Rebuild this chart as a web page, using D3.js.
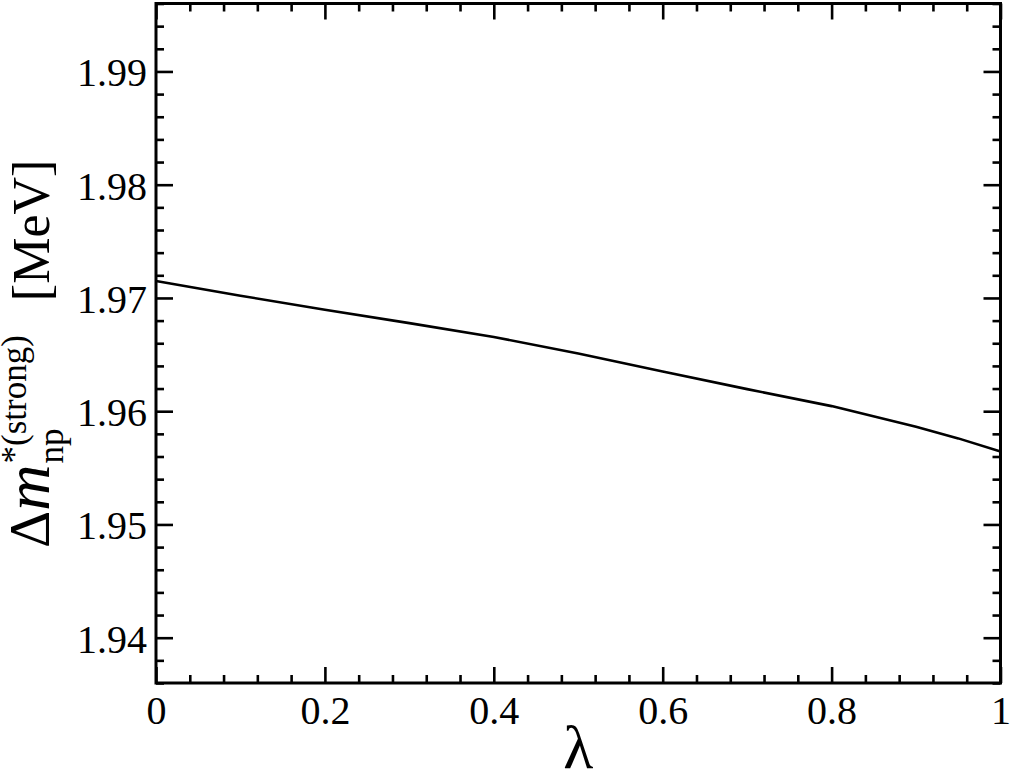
<!DOCTYPE html>
<html>
<head>
<meta charset="utf-8">
<script src="https://cdn.jsdelivr.net/npm/d3@7"></script>
<style>
  body { margin: 0; background: #fff; }
  svg text { font-family: "Liberation Serif", "Times New Roman", Times, serif; fill: #000; }
</style>
</head>
<body>
<svg id="chart" width="1011" height="777"></svg>
<script>
// values
var lambdaVals = [0, 0.1, 0.2, 0.3, 0.4, 0.5, 0.6, 0.7, 0.8, 0.9, 0.95, 1.0];
var dmVals = [1.97149, 1.97020, 1.96895, 1.96778, 1.96655, 1.96510, 1.96350, 1.96195, 1.96045, 1.95862, 1.95760, 1.95645];
var xTickVals = [0, 0.2, 0.4, 0.6, 0.8, 1];
var xTickLabels = ["0", "0.2", "0.4", "0.6", "0.8", "1"];
var yTickVals = [1.94, 1.95, 1.96, 1.97, 1.98, 1.99];
var yTickLabels = ["1.94", "1.95", "1.96", "1.97", "1.98", "1.99"];

var m = {left: 156, right: 1000.5, top: 3.5, bottom: 683};
var svg = d3.select("#chart");

var x = d3.scaleLinear().domain([0, 1]).range([m.left, m.right]);
var y = d3.scaleLinear().domain([1.936, 1.996]).range([m.bottom, m.top]);

var xMinor = d3.range(0, 1.0001, 0.04).filter(function(v){ return Math.abs(v*5 - Math.round(v*5)) > 1e-6; });
var yMinor = d3.range(1.936, 1.99601, 0.002).filter(function(v){ return Math.abs(v*100 - Math.round(v*100)) > 1e-6; });

function drawAxis(axis, tx, ty) {
    var g = svg.append("g").attr("transform", "translate(" + tx + "," + ty + ")").call(axis);
    g.attr("font-family", null);
    g.select(".domain").remove();
    g.selectAll("line").attr("stroke", "#000").attr("stroke-width", 2.6);
    return g;
}

// major ticks (inward) on all four sides
var bx = drawAxis(d3.axisBottom(x).tickValues(xTickVals).tickSize(-16).tickPadding(13)
                  .tickFormat(function(d, i){ return xTickLabels[i]; }), 0, m.bottom);
bx.selectAll("text").attr("font-size", 40).attr("dy", "0.71em");
drawAxis(d3.axisTop(x).tickValues(xTickVals).tickSize(-16).tickFormat(""), 0, m.top);
drawAxis(d3.axisBottom(x).tickValues(xMinor).tickSize(-8).tickFormat(""), 0, m.bottom);
drawAxis(d3.axisTop(x).tickValues(xMinor).tickSize(-8).tickFormat(""), 0, m.top);

var ly = drawAxis(d3.axisLeft(y).tickValues(yTickVals).tickSize(-17).tickPadding(9)
                  .tickFormat(function(d, i){ return yTickLabels[i]; }), m.left, 0);
ly.selectAll("text").attr("font-size", 40).attr("dy", "0.36em");
drawAxis(d3.axisRight(y).tickValues(yTickVals).tickSize(-17).tickFormat(""), m.right, 0);
drawAxis(d3.axisLeft(y).tickValues(yMinor).tickSize(-8).tickFormat(""), m.left, 0);
drawAxis(d3.axisRight(y).tickValues(yMinor).tickSize(-8).tickFormat(""), m.right, 0);

// frame
svg.append("rect")
    .attr("x", m.left).attr("y", m.top)
    .attr("width", m.right - m.left).attr("height", m.bottom - m.top)
    .attr("fill", "none").attr("stroke", "#000").attr("stroke-width", 3);

// curve
var line = d3.line().x(function(d, i){ return x(lambdaVals[i]); }).y(function(d){ return y(d); });
svg.append("path")
    .datum(dmVals)
    .attr("d", line)
    .attr("fill", "none")
    .attr("stroke", "#000")
    .attr("stroke-width", 2.6);

// x label
svg.append("text")
    .attr("x", (m.left + m.right) / 2).attr("y", 768)
    .attr("text-anchor", "middle")
    .attr("font-size", 62)
    .text("λ");

// y label, built piece by piece inside a rotated group
var yl = svg.append("g").attr("transform", "translate(49,548) rotate(-90)");
var cx = 0;
var t1 = yl.append("text").attr("x", cx).attr("y", 0).attr("font-size", 58).text("Δ");
cx += t1.node().getComputedTextLength();
var t2 = yl.append("text").attr("x", cx).attr("y", 0).attr("font-size", 64)
    .attr("font-style", "italic").text("m");
cx += t2.node().getComputedTextLength() + 1;
var t3 = yl.append("text").attr("x", cx).attr("y", -23).attr("font-size", 35).text("*(strong)");
var t4 = yl.append("text").attr("x", cx).attr("y", 14).attr("font-size", 35).text("np");
cx += Math.max(t3.node().getComputedTextLength(), t4.node().getComputedTextLength()) + 34;
yl.append("text").attr("x", cx).attr("y", 0).attr("font-size", 52).text("[MeV]");
</script>
</body>
</html>
